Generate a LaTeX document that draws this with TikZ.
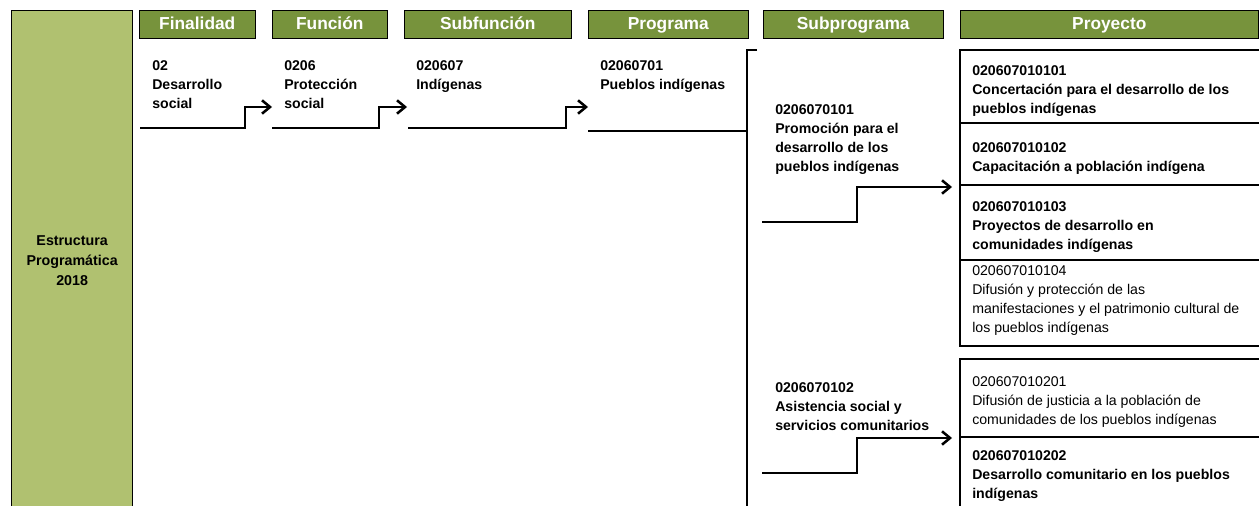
\documentclass[tikz,border=0pt]{standalone}
\usepackage{fontspec}
\setmainfont{Liberation Sans}
\usetikzlibrary{arrows.meta}
\definecolor{headgreen}{RGB}{119,147,60}
\definecolor{sidegreen}{RGB}{176,193,112}

\tikzset{
  colhead/.style={draw=black, fill=headgreen, text=white, anchor=north west, inner sep=0pt,
    minimum height=21pt, text height=9pt, text depth=0.6pt,
    font=\bfseries\fontsize{13}{15}\selectfont},
  celltext/.style={anchor=north west, inner sep=0pt, align=left,
    font=\bfseries\fontsize{10.6}{14.25}\selectfont},
  plaintext/.style={celltext, font=\fontsize{10.6}{14.25}\selectfont},
  steparrow/.style={line width=1.9pt, -{Straight Barb[length=6pt,width=10pt]}},
  framethick/.style={line width=2.2pt},
}

\begin{document}
\begin{tikzpicture}[x=0.75pt, y=-0.75pt]
    \clip (0,0) rectangle (1259,506);

    % Draw the side box
    \node[draw, line width=1pt, fill=sidegreen, anchor=north west, minimum width=90.75pt,
      minimum height=375pt, align=center, font=\bfseries\fontsize{10.7}{15}\selectfont]
      (side) at (11,10) {Estructura\\Programática\\2018};

    % Draw the column headers
    \node[colhead, minimum width=87pt] (h-fin) at (139,10) {Finalidad};
    \node[colhead, minimum width=86.25pt] (h-fun) at (272,10) {Función};
    \node[colhead, minimum width=125.25pt] (h-sfu) at (404,10) {Subfunción};
    \node[colhead, minimum width=120pt] (h-pro) at (588,10) {Programa};
    \node[colhead, minimum width=135pt] (h-spr) at (763,10) {Subprograma};
    \node[colhead, minimum width=223.5pt] (h-pry) at (960,10) {Proyecto};

    % Column entries
    \node[celltext] (t-fin) at (152,60) {02\\Desarrollo\\social};
    \node[celltext] (t-fun) at (284,60) {0206\\Protección\\social};
    \node[celltext] (t-sfu) at (416,60) {020607\\Indígenas};
    \node[celltext] (t-pro) at (600,60) {02060701\\Pueblos indígenas};
    \node[celltext] (t-sp1) at (775,104) {0206070101\\Promoción para el\\desarrollo de los\\pueblos indígenas};
    \node[celltext] (t-sp2) at (775,382) {0206070102\\Asistencia social y\\servicios comunitarios};

    % Project entries
    \node[celltext] (p1) at (972,65) {020607010101\\Concertación para el desarrollo de los\\pueblos indígenas};
    \node[celltext] (p2) at (972,142) {020607010102\\Capacitación a población indígena};
    \node[celltext] (p3) at (972,201) {020607010103\\Proyectos de desarrollo en\\comunidades indígenas};
    \node[plaintext] (p4) at (972,265) {020607010104\\Difusión y protección de las\\manifestaciones y el patrimonio cultural de\\los pueblos indígenas};
    \node[plaintext] (p5) at (972,376) {020607010201\\Difusión de justicia a la población de\\comunidades de los pueblos indígenas};
    \node[celltext] (p6) at (972,450) {020607010202\\Desarrollo comunitario en los pueblos\\indígenas};

    % Connector ends
    \coordinate (fin-out) at (140,128);
    \coordinate (fun-in) at (272,107);
    \coordinate (fun-out) at (272,128);
    \coordinate (sfu-in) at (407,107);
    \coordinate (sfu-out) at (408,128);
    \coordinate (pro-in) at (588,107);
    \coordinate (pro-out) at (588,131);
    \coordinate (brk-mid) at (747,131);
    \coordinate (brk-top) at (757,50);
    \coordinate (sp1-out) at (762,222);
    \coordinate (py1-in) at (952,187);
    \coordinate (sp2-out) at (762,473);
    \coordinate (py2-in) at (952,438);

    % Draw the step arrows
    \draw[steparrow] (fin-out) -- ++(105,0) |- (fun-in);
    \draw[steparrow] (fun-out) -- ++(107,0) |- (sfu-in);
    \draw[steparrow] (sfu-out) -- ++(158,0) |- (pro-in);
    \draw[steparrow] (sp1-out) -- ++(95,0) |- (py1-in);
    \draw[steparrow] (sp2-out) -- ++(95,0) |- (py2-in);

    % Draw the bracket of the programme
    \draw[line width=2pt] (pro-out) -- (brk-mid);
    \draw[line width=2pt] (brk-top) -- (747,50) -- (747,512);

    % Draw the project frames
    \draw[framethick] (1262,50) -- (960,50) -- (960,346) -- (1262,346);
    \draw[line width=1.5pt] (960,123) -- (1262,123) (960,185) -- (1262,185) (960,260) -- (1262,260);
    \draw[framethick] (1262,359) -- (960,359) -- (960,512);
    \draw[line width=1.5pt] (960,437) -- (1262,437);
\end{tikzpicture}
\end{document}
